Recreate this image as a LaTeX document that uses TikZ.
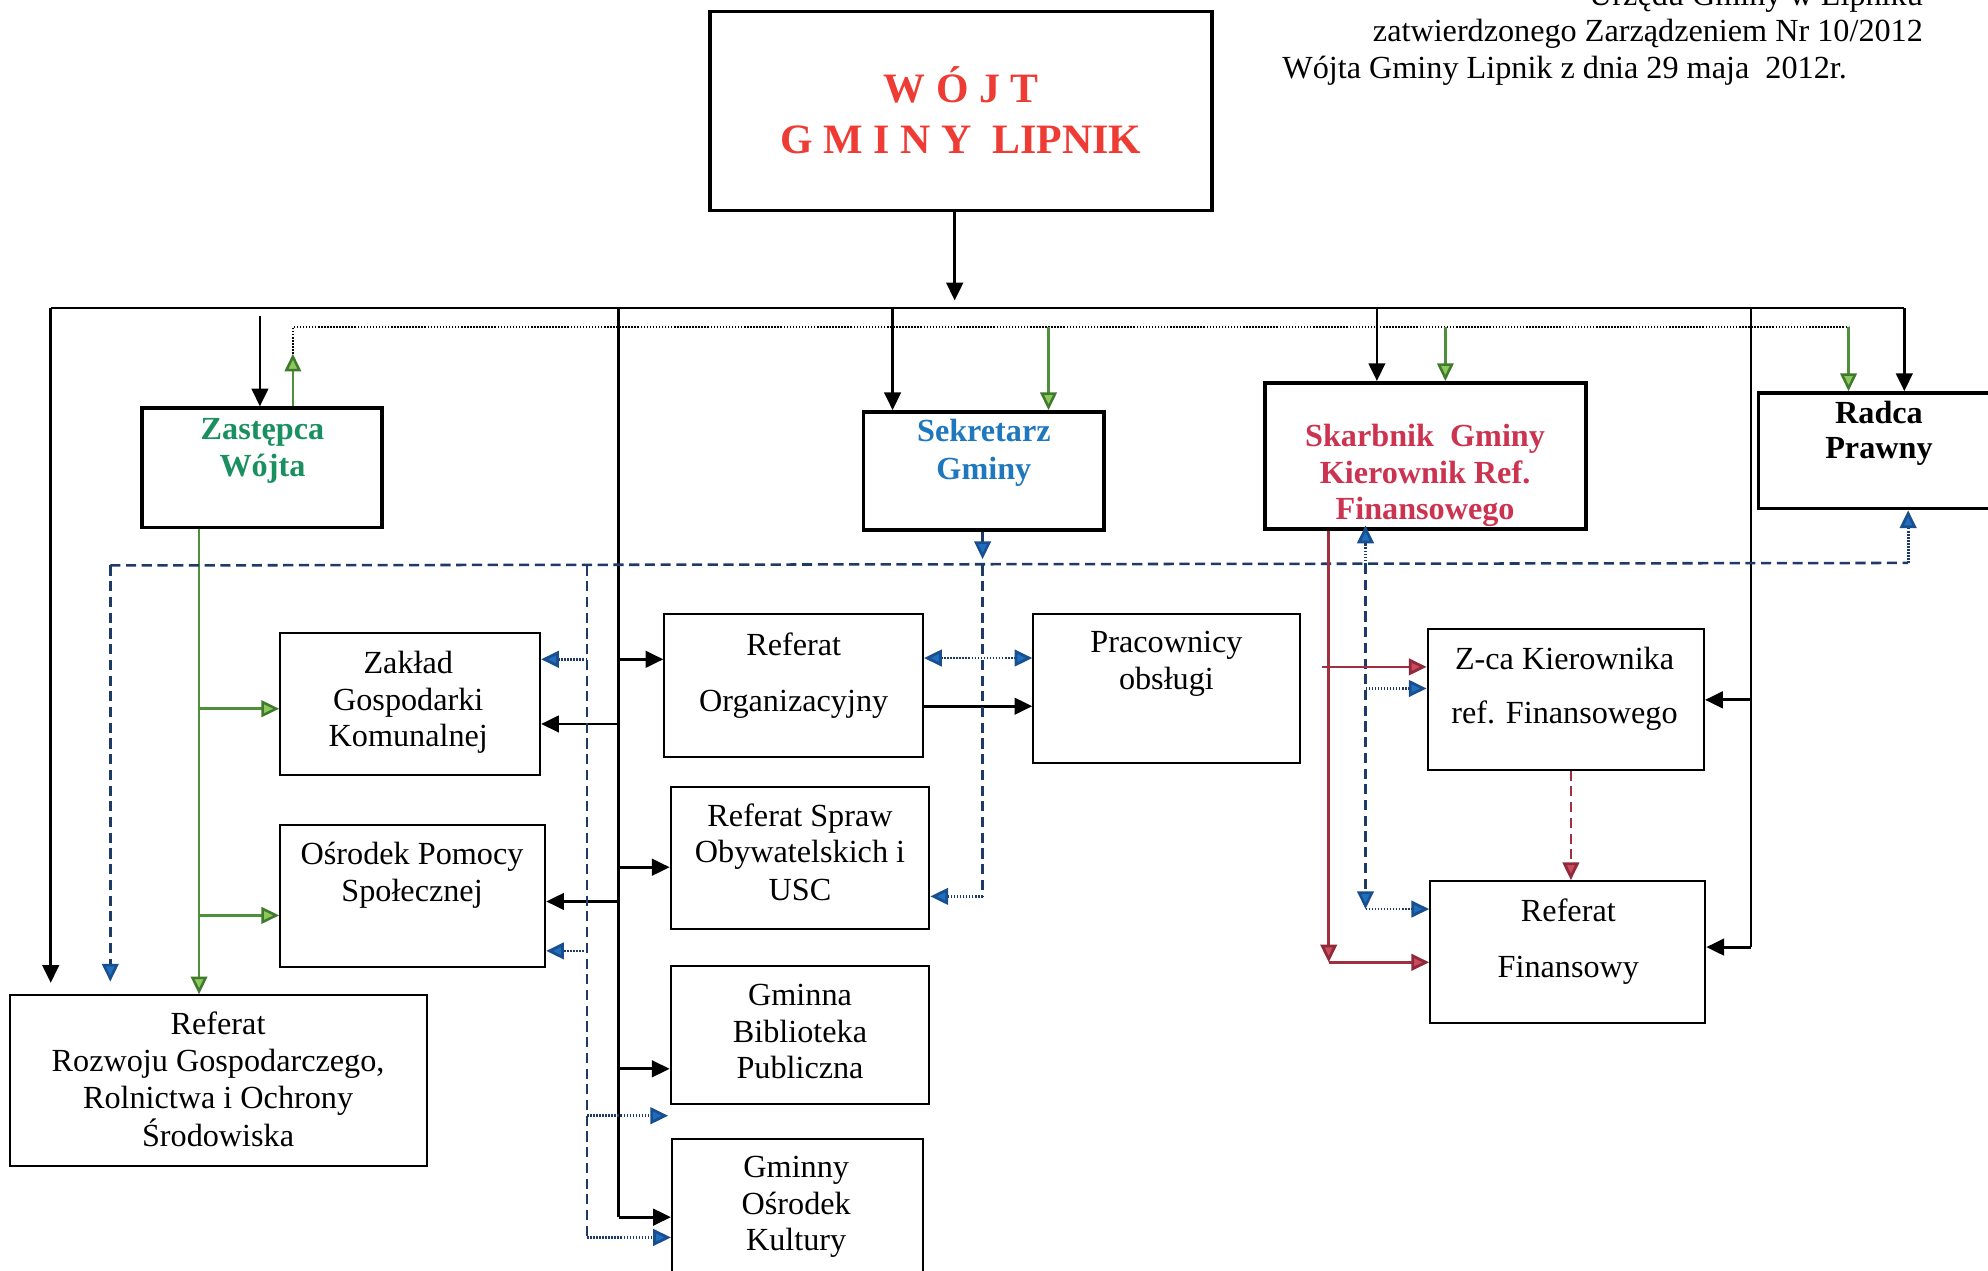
\documentclass[tikz,border=0pt]{standalone}
\usepackage{fontspec}
\setmainfont{Liberation Serif}
\usetikzlibrary{arrows.meta,fit}
\definecolor{tred}{HTML}{EE3B33}
\definecolor{tgreen}{HTML}{1A9060}
\definecolor{tblue}{HTML}{1F77BE}
\definecolor{tcrim}{HTML}{CC3350}
\definecolor{gline}{HTML}{4E8F3A}
\definecolor{gfill}{HTML}{8CC85A}
\definecolor{gdraw}{HTML}{3F7A2E}
\definecolor{bline}{HTML}{1E3A66}
\definecolor{bfill}{HTML}{1E6FC0}
\definecolor{bdraw}{HTML}{1A4F8F}
\definecolor{rline}{HTML}{9E3040}
\definecolor{rfill}{HTML}{CC4A5C}
\definecolor{rdraw}{HTML}{8E2A3A}
\begin{document}
\begin{tikzpicture}[x=0.5pt,y=-0.5pt,
  box/.style={draw, line width=0.8pt, inner sep=0pt},
  hbox/.style={draw, line width=1.5pt, inner sep=0pt},
  tx/.style={font=\fontsize{12.7pt}{14.5pt}\selectfont, anchor=base, inner sep=0pt},
  bt/.style={tx, font=\fontsize{12.7pt}{14.5pt}\selectfont\bfseries},
  tt/.style={tx, font=\fontsize{16.5pt}{19pt}\selectfont\bfseries, text=tred},
  ln/.style={line width=1.1pt},
  ar/.style={ln, arrows={-Triangle[length=7pt,width=6.5pt]}},
  gar/.style={line width=1pt, draw=gline, arrows={-Triangle[length=7pt,width=6.5pt,fill=gfill,color=gdraw]}},
  dotk/.style={line width=1pt, dash pattern=on 0.6pt off 0.6pt},
  bdash/.style={line width=1pt, draw=bline, dash pattern=on 4pt off 2.2pt},
  bdot/.style={line width=1.1pt, draw=bline, dash pattern=on 0.6pt off 0.6pt},
  btip/.style={arrows={-Triangle[length=7pt,width=6.5pt,fill=bfill,color=bdraw]}},
  bboth/.style={arrows={Triangle[length=7pt,width=6.5pt,fill=bfill,color=bdraw]-Triangle[length=7pt,width=6.5pt,fill=bfill,color=bdraw]}},
  rln/.style={line width=1.1pt, draw=rline},
  rtip/.style={arrows={-Triangle[length=7pt,width=6.5pt,fill=rfill,color=rdraw]}},
  rdash/.style={rln, dash pattern=on 4pt off 2.2pt}]
\fill[white] (0,0) rectangle (1568,1002);
\useasboundingbox (0,0) rectangle (1568,1002);

% header
\node[tx, anchor=base east] (h1) at (1517,4) {Urzędu Gminy w Lipniku};
\node[tx, anchor=base east] (h2) at (1517,33) {zatwierdzonego Zarządzeniem Nr 10/2012};
\node[tx, anchor=base east] (h3) at (1457,62) {Wójta Gminy Lipnik z dnia 29 maja\ \ 2012r.};

% boxes
\node[hbox, fit={(560,9) (956,166)}] (wojt) {};
\node[hbox, fit={(112,322) (301,416)}] (zast) {};
\node[hbox, fit={(681,325) (871,418)}] (sekr) {};
\node[hbox, fit={(998,302) (1251,417)}] (skarb) {};
\node[hbox, fit={(1387,310) (1590,401)}] (radca) {};
\node[box, fit={(221,499) (426,611)}] (zgk) {};
\node[box, fit={(221,651) (430,763)}] (ops) {};
\node[box, fit={(8,785) (337,920)}] (rr) {};
\node[box, fit={(524,484) (728,597)}] (ro) {};
\node[box, fit={(529,621) (733,733)}] (rs) {};
\node[box, fit={(529,762) (733,871)}] (gbp) {};
\node[box, fit={(530,898) (728,1020)}] (gok) {};
\node[box, fit={(815,484) (1025,602)}] (prac) {};
\node[box, fit={(1126,496) (1344,607)}] (zca) {};
\node[box, fit={(1128,695) (1345,807)}] (rf) {};

% texts
\node[tt] (w1) at (758,81) {W Ó J T};
\node[tt] (w2) at (758,121) {G M I N Y\ \ LIPNIK};
\node[bt, text=tgreen] (z1) at (207,347) {Zastępca};
\node[bt, text=tgreen] (z2) at (207,376) {Wójta};
\node[bt, text=tblue] (s1) at (776,348) {Sekretarz};
\node[bt, text=tblue] (s2) at (776,378) {Gminy};
\node[bt, text=tcrim] (k1) at (1124,352) {Skarbnik\ \ Gminy};
\node[bt, text=tcrim] (k2) at (1124,381) {Kierownik Ref.};
\node[bt, text=tcrim] (k3) at (1124,410) {Finansowego};
\node[bt] (p1) at (1482,334) {Radca};
\node[bt] (p2) at (1482,362) {Prawny};
\node[tx] (zg1) at (322,531) {Zakład};
\node[tx] (zg2) at (322,560) {Gospodarki};
\node[tx] (zg3) at (322,589) {Komunalnej};
\node[tx] (op1) at (325,682) {Ośrodek Pomocy};
\node[tx] (op2) at (325,711) {Społecznej};
\node[tx] (rr1) at (172,816) {Referat};
\node[tx] (rr2) at (172,845) {Rozwoju Gospodarczego,};
\node[tx] (rr3) at (172,874) {Rolnictwa i Ochrony};
\node[tx] (rr4) at (172,904) {Środowiska};
\node[tx] (ro1) at (626,517) {Referat};
\node[tx] (ro2) at (626,561) {Organizacyjny};
\node[tx] (rs1) at (631,652) {Referat Spraw};
\node[tx] (rs2) at (631,680) {Obywatelskich i};
\node[tx] (rs3) at (631,710) {USC};
\node[tx] (gb1) at (631,793) {Gminna};
\node[tx] (gb2) at (631,822) {Biblioteka};
\node[tx] (gb3) at (631,851) {Publiczna};
\node[tx] (go1) at (628,929) {Gminny};
\node[tx] (go2) at (628,958) {Ośrodek};
\node[tx] (go3) at (628,986) {Kultury};
\node[tx] (pr1) at (920,515) {Pracownicy};
\node[tx] (pr2) at (920,544) {obsługi};
\node[tx] (zc1) at (1234,528) {Z-ca Kierownika};
\node[tx] (zc2) at (1234,571) {ref. Finansowego};
\node[tx] (rf1) at (1237,727) {Referat};
\node[tx] (rf2) at (1237,771) {Finansowy};

% top black structure
\coordinate (tL) at (40,243);
\coordinate (tR) at (1502,243);
\draw[ln] (tL) -- (tR);
\draw[ar, shorten >=3pt] (wojt.south -| 753,0) -- (tL -| 753,0);
\draw[ar, shorten >=4.5pt] (tL) -- (rr.north -| tL);
\draw[ar, shorten <=3pt] (tL -| 205,0) -- (zast.north -| 205,0);
\draw[ar] (tL -| 704,0) -- (sekr.north -| 704,0);
\draw[ar] (tL -| 1086,0) -- (skarb.north -| 1086,0);
\draw[ar] (tR) -- (radca.north -| tR);

% green dotted supervision
\coordinate (gUp) at (231,279);
\coordinate (dL) at (231,258);
\coordinate (dR) at (1458,258);
\draw[gar] (zast.north -| gUp) -- (gUp);
\draw[dotk] (gUp) -- (dL) -- (dR);
\draw[gar] (dR) -- (radca.north -| dR);
\draw[gar] (dL -| 827,0) -- (sekr.north -| 827,0);
\draw[gar] (dL -| 1140,0) -- (skarb.north -| 1140,0);

% vertical 1
\coordinate (v1t) at (488,243);
\coordinate (v1b) at (488,960);
\draw[ln] (v1t) -- (v1b);
\draw[ar] (v1b) -- (gok.west |- v1b);
\draw[ar] (v1t |- 0,520) -- (ro.west |- 0,520);
\draw[ar] (v1t |- 0,571) -- (zgk.east |- 0,571);
\draw[ar] (v1t |- 0,684) -- (rs.west |- 0,684);
\draw[ar] (v1t |- 0,711) -- (ops.east |- 0,711);
\draw[ar] (v1t |- 0,843) -- (gbp.west |- 0,843);

% vertical 2
\coordinate (v2t) at (1381,243);
\coordinate (v2b) at (1381,747);
\draw[ln] (v2t) -- (v2b);
\draw[ar] (v2b) -- (rf.east |- v2b);
\draw[ar] (v2t |- 0,552) -- (zca.east |- 0,552);
\draw[ar] (ro.east |- 0,557) -- (prac.west |- 0,557);

% green from Zastepca
\draw[gar] (zast.south -| 157,0) -- (rr.north -| 157,0);
\draw[gar] (zast.south -| 157,0) |- (zgk.west |- 0,559);
\draw[gar] (zast.south -| 157,0) |- (ops.west |- 0,722);

% blue system
\coordinate (bL) at (87,446);
\coordinate (bR) at (1505,444);
\draw[bdash] (bL) -- (bR);
\draw[bdash, btip, shorten >=5pt] (bL) -- (rr.north -| bL);
\draw[bdot, btip] (bR) -- (radca.south -| bR);
\coordinate (b2t) at (463,446);
\coordinate (b2b) at (463,976);
\draw[bdash] (b2t) -- (b2b);
\draw[bdot, btip] (b2t |- 0,520) -- (zgk.east |- 0,520);
\draw[bdot, btip] (b2t |- 0,750) -- (ops.east |- 0,750);
\coordinate (bfree) at (527,880);
\draw[bdot, btip] (b2t |- bfree) -- (bfree);
\draw[bdot, btip] (b2b) -- (gok.west |- b2b);
\coordinate (b3t) at (775,446);
\coordinate (b3b) at (775,707);
\draw[bdash, btip, shorten >=2.5pt] (sekr.south -| b3t) -- (b3t);
\draw[bdash] (b3t) -- (b3b);
\draw[bdot, btip] (b3b) -- (rs.east |- b3b);
\draw[bdot, bboth] (ro.east |- 0,519) -- (prac.west |- 0,519);
\coordinate (b4t) at (1077,445);
\coordinate (b4b) at (1077,717);
\draw[bdot, btip, shorten >=-2pt] (b4t) -- (skarb.south -| b4t);
\draw[bdash, btip] (b4t) -- (b4b);
\draw[bdot, btip] (b4b) -- (rf.west |- b4b);
\draw[bdot, btip] (b4t |- 0,543) -- (zca.west |- 0,543);

% red
\coordinate (r1b) at (1048,759);
\draw[rln, rtip] (skarb.south -| r1b) -- (r1b);
\draw[rln, rtip] (r1b) -- (rf.west |- r1b);
\draw[rln, rtip] (1043,526) -- (zca.west |- 0,526);
\draw[rdash, rtip] (zca.south -| 1239,0) -- (rf.north -| 1239,0);
\end{tikzpicture}
\end{document}
